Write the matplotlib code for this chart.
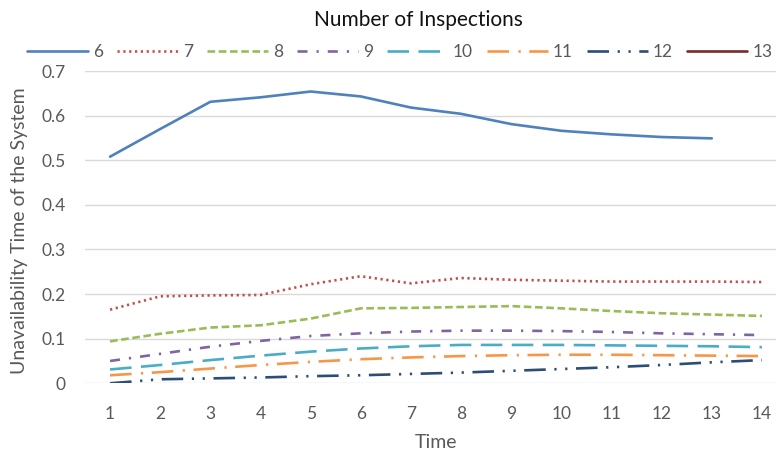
import matplotlib
matplotlib.use("Agg")
import matplotlib.pyplot as plt

plt.rcParams['font.family'] = ['Lato', 'DejaVu Sans']
plt.rcParams['lines.scale_dashes'] = False

time = list(range(1, 15))
series_names = ["6", "7", "8", "9", "10", "11", "12", "13"]
s6 = [0.508, 0.570, 0.631, 0.641, 0.654, 0.643, 0.618, 0.604, 0.581, 0.566, 0.558, 0.552, 0.549]
s7 = [0.165, 0.195, 0.197, 0.198, 0.222, 0.240, 0.224, 0.236, 0.232, 0.230, 0.228, 0.228, 0.228, 0.227]
s8 = [0.094, 0.111, 0.125, 0.130, 0.145, 0.168, 0.169, 0.171, 0.173, 0.168, 0.162, 0.157, 0.154, 0.151]
s9 = [0.050, 0.066, 0.082, 0.095, 0.106, 0.112, 0.116, 0.118, 0.118, 0.117, 0.115, 0.112, 0.110, 0.108]
s10 = [0.031, 0.041, 0.052, 0.062, 0.071, 0.078, 0.083, 0.086, 0.086, 0.086, 0.085, 0.084, 0.083, 0.081]
s11 = [0.018, 0.025, 0.033, 0.041, 0.048, 0.054, 0.058, 0.061, 0.063, 0.064, 0.064, 0.063, 0.062, 0.061]
s12 = [0.000, 0.009, 0.011, 0.013, 0.016, 0.018, 0.021, 0.024, 0.028, 0.032, 0.036, 0.041, 0.047, 0.052]
s13 = []
yticks = [0, 0.1, 0.2, 0.3, 0.4, 0.5, 0.6, 0.7]
ytick_labels = ["0", "0.1", "0.2", "0.3", "0.4", "0.5", "0.6", "0.7"]

colors = ["#4F81BD", "#C0504D", "#9BBB59", "#8064A2", "#4BACC6", "#F79646", "#2C4D75", "#772C2A"]
styles = [
    "-",
    (0, (1.6, 2.6)),
    (0, (5.5, 2.6)),
    (0, (7.2, 6.5, 1.6, 6.5)),
    (0, (15.5, 6.8)),
    (0, (15.5, 6.8, 1.6, 6.2)),
    (0, (15.5, 6.2, 1.6, 6.2, 1.6, 6.2)),
    "-",
]
data = [s6, s7, s8, s9, s10, s11, s12, s13]

fig = plt.figure(figsize=(7.76, 4.55), dpi=100)
ax = fig.add_axes([85/776, 71.7/455, 702/776, 312.3/455])

text_color = "#595959"
for name, vals, c, ls in zip(series_names, data, colors, styles):
    ax.plot(time[:len(vals)], vals, color=c, linestyle=ls, linewidth=1.9,
            label=name, solid_capstyle='round', dash_capstyle='butt')

ax.set_xlim(0.5, 14.5)
ax.set_ylim(0, 0.7)
ax.set_xticks(time)
ax.set_xticklabels([str(t) for t in time])
ax.set_yticks(yticks)
ax.set_yticklabels(ytick_labels)
ax.grid(axis='y', color="#D9D9D9", linewidth=1)
ax.set_axisbelow(True)
for sp in ax.spines.values():
    sp.set_visible(False)
ax.tick_params(axis='both', length=0, labelsize=12.5, colors=text_color)
ax.tick_params(axis='x', pad=16)
ax.tick_params(axis='y', pad=14)

ax.set_xlabel("Time", fontsize=14, color=text_color)
ax.set_ylabel("Unavailability Time of the System", fontsize=14, color=text_color)
ax.xaxis.set_label_coords(0.5, -(443 - 383.3) / 312.3)
ax.xaxis.label.set_va('center')
ax.yaxis.set_label_coords(-(85 - 20) / 702, (383.3 - 231) / 312.3)
ax.yaxis.label.set_va('center')

fig.text(418/776, 1 - 20/455, "Number of Inspections", ha='center', va='center', fontsize=15, color="#111111")

leg = fig.legend(loc='center', bbox_to_anchor=(400/776, 1 - 52/455), ncol=8, frameon=False,
                 fontsize=12.5, handlelength=3.5, handletextpad=0.3, columnspacing=0.8,
                 labelcolor=text_color)

fig.savefig("out.png", dpi=100)
